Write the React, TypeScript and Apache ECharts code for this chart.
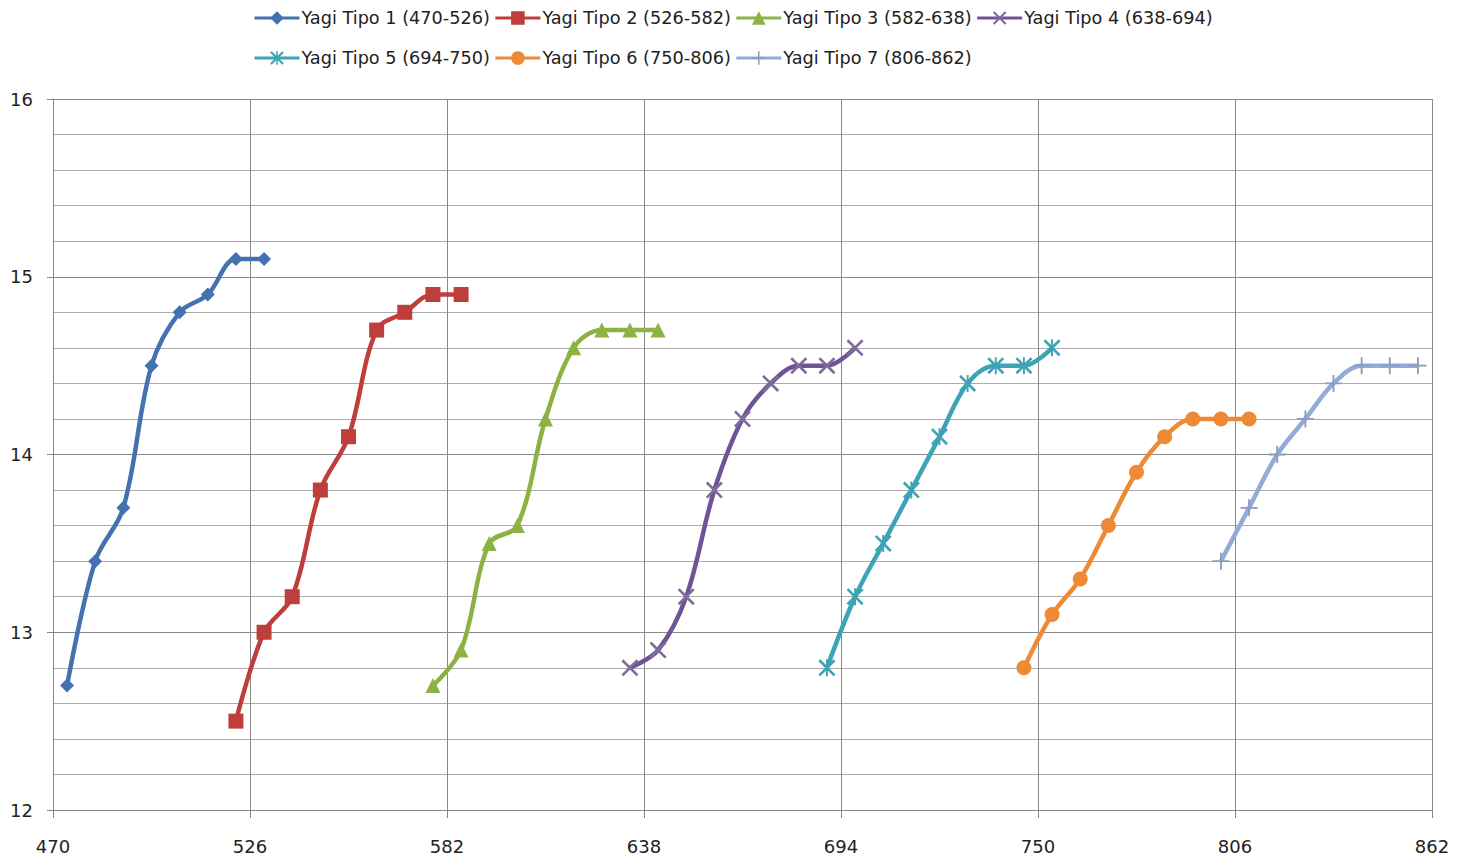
import React, { useEffect, useRef } from "react";
import * as echarts from "echarts";

const xTicks = [470, 526, 582, 638, 694, 750, 806, 862];

const seriesNames = [
  "Yagi Tipo 1 (470-526)",
  "Yagi Tipo 2 (526-582)",
  "Yagi Tipo 3 (582-638)",
  "Yagi Tipo 4 (638-694)",
  "Yagi Tipo 5 (694-750)",
  "Yagi Tipo 6 (750-806)",
  "Yagi Tipo 7 (806-862)",
];

const tipo1X = [474, 482, 490, 498, 506, 514, 522, 530];
const tipo1Y = [12.7, 13.4, 13.7, 14.5, 14.8, 14.9, 15.1, 15.1];

const tipo2X = [522, 530, 538, 546, 554, 562, 570, 578, 586];
const tipo2Y = [12.5, 13.0, 13.2, 13.8, 14.1, 14.7, 14.8, 14.9, 14.9];

const tipo3X = [578, 586, 594, 602, 610, 618, 626, 634, 642];
const tipo3Y = [12.7, 12.9, 13.5, 13.6, 14.2, 14.6, 14.7, 14.7, 14.7];

const tipo4X = [634, 642, 650, 658, 666, 674, 682, 690, 698];
const tipo4Y = [12.8, 12.9, 13.2, 13.8, 14.2, 14.4, 14.5, 14.5, 14.6];

const tipo5X = [690, 698, 706, 714, 722, 730, 738, 746, 754];
const tipo5Y = [12.8, 13.2, 13.5, 13.8, 14.1, 14.4, 14.5, 14.5, 14.6];

const tipo6X = [746, 754, 762, 770, 778, 786, 794, 802, 810];
const tipo6Y = [12.8, 13.1, 13.3, 13.6, 13.9, 14.1, 14.2, 14.2, 14.2];

const tipo7X = [802, 810, 818, 826, 834, 842, 850, 858];
const tipo7Y = [13.4, 13.7, 14.0, 14.2, 14.4, 14.5, 14.5, 14.5];

const allX = [tipo1X, tipo2X, tipo3X, tipo4X, tipo5X, tipo6X, tipo7X];
const allY = [tipo1Y, tipo2Y, tipo3Y, tipo4Y, tipo5Y, tipo6Y, tipo7Y];

const colors = ["#4472B0", "#BE3E3B", "#8DB244", "#6E5497", "#3DA3B6", "#EE8A35", "#93ABD8"];
const markerColors = ["#4472B0", "#BE3E3B", "#8DB244", "#7F6C9E", "#3DA3B6", "#EE8A35", "#8A9CC2"];

const X_PATH = "path://M0,1.1 L1.1,0 L10,8.9 L8.9,10 Z M8.9,0 L10,1.1 L1.1,10 L0,8.9 Z";
const STAR_PATH =
  "path://M0,1.1 L1.1,0 L10,8.9 L8.9,10 Z M8.9,0 L10,1.1 L1.1,10 L0,8.9 Z M4.45,0 L5.55,0 L5.55,10 L4.45,10 Z";
const PLUS_PATH = "path://M4.45,0 L5.55,0 L5.55,10 L4.45,10 Z M0,4.45 L10,4.45 L10,5.55 L0,5.55 Z";

const symbols = ["diamond", "rect", "triangle", X_PATH, STAR_PATH, "circle", PLUS_PATH];
const symbolSizes = [14, 15, 15, 17, 17, 15, 17];

export default function App() {
  const ref = useRef<HTMLDivElement>(null);

  useEffect(() => {
    if (!ref.current) return;
    const chart = echarts.init(ref.current, null, { renderer: "svg" });
    const font = "DejaVu Sans";
    const series = seriesNames.map((name, i) => ({
      name,
      type: "line",
      smooth: 0.35,
      data: allX[i].map((x, j) => [x, allY[i][j]]),
      symbol: symbols[i],
      symbolSize: symbolSizes[i],
      showAllSymbol: true,
      lineStyle: { color: colors[i], width: 4.5 },
      itemStyle: { color: markerColors[i] },
      emphasis: { disabled: true },
    }));

    const legendCommon = {
      left: 253,
      orient: "horizontal",
      itemWidth: 45,
      itemHeight: 17,
      itemGap: 4,
      lineStyle: { width: 3 },
      textStyle: { fontFamily: font, fontSize: 17.7, color: "#222", padding: [0, 0, 0, -3] },
      padding: 0,
    };

    chart.setOption({
      animation: false,
      backgroundColor: "#ffffff",
      color: colors,
      legend: [
        { ...legendCommon, top: 9, data: seriesNames.slice(0, 4) },
        { ...legendCommon, top: 49, data: seriesNames.slice(4) },
      ],
      grid: { left: 53, right: 34, top: 99, bottom: 49, containLabel: false },
      xAxis: {
        type: "value",
        min: 470,
        max: 862,
        interval: 56,
        axisLine: { show: true, lineStyle: { color: "#868686", width: 1 } },
        axisTick: { show: true, length: 8, lineStyle: { color: "#868686" } },
        axisLabel: {
          fontFamily: font,
          fontSize: 18,
          color: "#222",
          margin: 27,
          customValues: xTicks,
        },
        splitLine: { show: true, lineStyle: { color: "#8a8a8a", width: 1 } },
      },
      yAxis: {
        type: "value",
        min: 12,
        max: 16,
        interval: 1,
        axisLine: { show: true, lineStyle: { color: "#868686", width: 1 } },
        axisTick: { show: true, length: 6, lineStyle: { color: "#868686" } },
        axisLabel: { fontFamily: font, fontSize: 18, color: "#222", margin: 20 },
        splitLine: { show: true, lineStyle: { color: "#8a8a8a", width: 1 } },
        minorTick: { show: false, splitNumber: 5 },
        minorSplitLine: { show: true, lineStyle: { color: "#ababab", width: 1 } },
      },
      series,
    });
    return () => chart.dispose();
  }, []);

  return (
    <div
      ref={ref}
      style={{ position: "absolute", left: 0, top: 0, width: 1466, height: 859, background: "#fff" }}
    />
  );
}
